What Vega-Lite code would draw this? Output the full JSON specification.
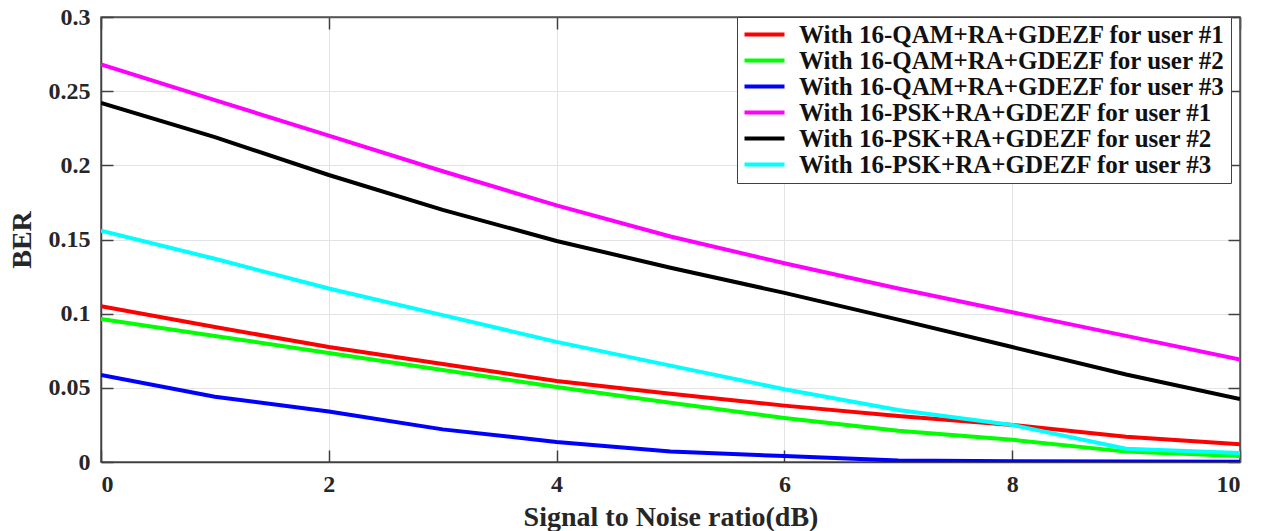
{
  "$schema": "https://vega.github.io/schema/vega-lite/v6.json",
  "width": 1139,
  "height": 445,
  "autosize": {"type": "none"},
  "padding": {"left": 101, "top": 17, "right": 23, "bottom": 69},
  "background": "white",
  "view": {"stroke": "#555555", "strokeWidth": 1.5},
  "config": {
    "font": "Liberation Serif",
    "axis": {
      "labelFont": "Liberation Serif", "labelFontWeight": "bold", "labelFontSize": 24, "labelColor": "#262626",
      "titleFont": "Liberation Serif", "titleFontWeight": "bold", "titleFontSize": 28, "titleColor": "#262626",
      "domainColor": "#404040", "domainWidth": 1.5,
      "tickColor": "#404040", "tickSize": -12, "tickWidth": 1.5,
      "gridColor": "#e3e3e3", "gridWidth": 1
    },
    "legend": {
      "labelFont": "Liberation Serif", "labelFontWeight": "bold", "labelFontSize": 25, "labelColor": "#111111"
    }
  },
  "data": {
    "values": [
      {"snr": 0, "ber": 0.105, "series": "With 16-QAM+RA+GDEZF for user #1"},
      {"snr": 1, "ber": 0.091, "series": "With 16-QAM+RA+GDEZF for user #1"},
      {"snr": 2, "ber": 0.0775, "series": "With 16-QAM+RA+GDEZF for user #1"},
      {"snr": 3, "ber": 0.066, "series": "With 16-QAM+RA+GDEZF for user #1"},
      {"snr": 4, "ber": 0.0546, "series": "With 16-QAM+RA+GDEZF for user #1"},
      {"snr": 5, "ber": 0.046, "series": "With 16-QAM+RA+GDEZF for user #1"},
      {"snr": 6, "ber": 0.038, "series": "With 16-QAM+RA+GDEZF for user #1"},
      {"snr": 7, "ber": 0.031, "series": "With 16-QAM+RA+GDEZF for user #1"},
      {"snr": 8, "ber": 0.025, "series": "With 16-QAM+RA+GDEZF for user #1"},
      {"snr": 9, "ber": 0.017, "series": "With 16-QAM+RA+GDEZF for user #1"},
      {"snr": 10, "ber": 0.012, "series": "With 16-QAM+RA+GDEZF for user #1"},

      {"snr": 0, "ber": 0.0965, "series": "With 16-QAM+RA+GDEZF for user #2"},
      {"snr": 1, "ber": 0.085, "series": "With 16-QAM+RA+GDEZF for user #2"},
      {"snr": 2, "ber": 0.0735, "series": "With 16-QAM+RA+GDEZF for user #2"},
      {"snr": 3, "ber": 0.062, "series": "With 16-QAM+RA+GDEZF for user #2"},
      {"snr": 4, "ber": 0.0506, "series": "With 16-QAM+RA+GDEZF for user #2"},
      {"snr": 5, "ber": 0.040, "series": "With 16-QAM+RA+GDEZF for user #2"},
      {"snr": 6, "ber": 0.0297, "series": "With 16-QAM+RA+GDEZF for user #2"},
      {"snr": 7, "ber": 0.021, "series": "With 16-QAM+RA+GDEZF for user #2"},
      {"snr": 8, "ber": 0.015, "series": "With 16-QAM+RA+GDEZF for user #2"},
      {"snr": 9, "ber": 0.007, "series": "With 16-QAM+RA+GDEZF for user #2"},
      {"snr": 10, "ber": 0.004, "series": "With 16-QAM+RA+GDEZF for user #2"},

      {"snr": 0, "ber": 0.0587, "series": "With 16-QAM+RA+GDEZF for user #3"},
      {"snr": 1, "ber": 0.044, "series": "With 16-QAM+RA+GDEZF for user #3"},
      {"snr": 2, "ber": 0.034, "series": "With 16-QAM+RA+GDEZF for user #3"},
      {"snr": 3, "ber": 0.022, "series": "With 16-QAM+RA+GDEZF for user #3"},
      {"snr": 4, "ber": 0.0135, "series": "With 16-QAM+RA+GDEZF for user #3"},
      {"snr": 5, "ber": 0.007, "series": "With 16-QAM+RA+GDEZF for user #3"},
      {"snr": 6, "ber": 0.004, "series": "With 16-QAM+RA+GDEZF for user #3"},
      {"snr": 7, "ber": 0.001, "series": "With 16-QAM+RA+GDEZF for user #3"},
      {"snr": 8, "ber": 0.0005, "series": "With 16-QAM+RA+GDEZF for user #3"},
      {"snr": 9, "ber": 0.0003, "series": "With 16-QAM+RA+GDEZF for user #3"},
      {"snr": 10, "ber": 0.0002, "series": "With 16-QAM+RA+GDEZF for user #3"},

      {"snr": 0, "ber": 0.268, "series": "With 16-PSK+RA+GDEZF for user #1"},
      {"snr": 1, "ber": 0.244, "series": "With 16-PSK+RA+GDEZF for user #1"},
      {"snr": 2, "ber": 0.220, "series": "With 16-PSK+RA+GDEZF for user #1"},
      {"snr": 3, "ber": 0.196, "series": "With 16-PSK+RA+GDEZF for user #1"},
      {"snr": 4, "ber": 0.173, "series": "With 16-PSK+RA+GDEZF for user #1"},
      {"snr": 5, "ber": 0.152, "series": "With 16-PSK+RA+GDEZF for user #1"},
      {"snr": 6, "ber": 0.134, "series": "With 16-PSK+RA+GDEZF for user #1"},
      {"snr": 7, "ber": 0.117, "series": "With 16-PSK+RA+GDEZF for user #1"},
      {"snr": 8, "ber": 0.101, "series": "With 16-PSK+RA+GDEZF for user #1"},
      {"snr": 9, "ber": 0.085, "series": "With 16-PSK+RA+GDEZF for user #1"},
      {"snr": 10, "ber": 0.069, "series": "With 16-PSK+RA+GDEZF for user #1"},

      {"snr": 0, "ber": 0.242, "series": "With 16-PSK+RA+GDEZF for user #2"},
      {"snr": 1, "ber": 0.219, "series": "With 16-PSK+RA+GDEZF for user #2"},
      {"snr": 2, "ber": 0.1935, "series": "With 16-PSK+RA+GDEZF for user #2"},
      {"snr": 3, "ber": 0.170, "series": "With 16-PSK+RA+GDEZF for user #2"},
      {"snr": 4, "ber": 0.149, "series": "With 16-PSK+RA+GDEZF for user #2"},
      {"snr": 5, "ber": 0.131, "series": "With 16-PSK+RA+GDEZF for user #2"},
      {"snr": 6, "ber": 0.114, "series": "With 16-PSK+RA+GDEZF for user #2"},
      {"snr": 7, "ber": 0.096, "series": "With 16-PSK+RA+GDEZF for user #2"},
      {"snr": 8, "ber": 0.0775, "series": "With 16-PSK+RA+GDEZF for user #2"},
      {"snr": 9, "ber": 0.059, "series": "With 16-PSK+RA+GDEZF for user #2"},
      {"snr": 10, "ber": 0.0425, "series": "With 16-PSK+RA+GDEZF for user #2"},

      {"snr": 0, "ber": 0.156, "series": "With 16-PSK+RA+GDEZF for user #3"},
      {"snr": 1, "ber": 0.137, "series": "With 16-PSK+RA+GDEZF for user #3"},
      {"snr": 2, "ber": 0.117, "series": "With 16-PSK+RA+GDEZF for user #3"},
      {"snr": 3, "ber": 0.099, "series": "With 16-PSK+RA+GDEZF for user #3"},
      {"snr": 4, "ber": 0.081, "series": "With 16-PSK+RA+GDEZF for user #3"},
      {"snr": 5, "ber": 0.065, "series": "With 16-PSK+RA+GDEZF for user #3"},
      {"snr": 6, "ber": 0.049, "series": "With 16-PSK+RA+GDEZF for user #3"},
      {"snr": 7, "ber": 0.035, "series": "With 16-PSK+RA+GDEZF for user #3"},
      {"snr": 8, "ber": 0.025, "series": "With 16-PSK+RA+GDEZF for user #3"},
      {"snr": 9, "ber": 0.009, "series": "With 16-PSK+RA+GDEZF for user #3"},
      {"snr": 10, "ber": 0.006, "series": "With 16-PSK+RA+GDEZF for user #3"}
    ]
  },
  "layer": [
    {
      "mark": {"type": "line", "strokeWidth": 4, "clip": true},
      "encoding": {
        "x": {
          "field": "snr", "type": "quantitative",
          "scale": {"domain": [0, 10], "nice": false},
          "axis": {"values": [0, 2, 4, 6, 8, 10], "title": "Signal to Noise ratio(dB)", "titlePadding": 7, "labelPadding": 22, "grid": true}
        },
        "y": {
          "field": "ber", "type": "quantitative",
          "scale": {"domain": [0, 0.3], "nice": false},
          "axis": {"values": [0, 0.05, 0.1, 0.15, 0.2, 0.25, 0.3], "format": ".2~f", "title": "BER", "titlePadding": 12, "labelPadding": 23, "grid": true}
        },
        "color": {
          "field": "series", "type": "nominal",
          "scale": {
            "domain": [
              "With 16-QAM+RA+GDEZF for user #1",
              "With 16-QAM+RA+GDEZF for user #2",
              "With 16-QAM+RA+GDEZF for user #3",
              "With 16-PSK+RA+GDEZF for user #1",
              "With 16-PSK+RA+GDEZF for user #2",
              "With 16-PSK+RA+GDEZF for user #3"
            ],
            "range": ["#ff0000", "#00ff00", "#0000ff", "#ff00ff", "#000000", "#00ffff"]
          },
          "legend": {
            "title": null,
            "orient": "none",
            "legendX": 636,
            "legendY": 0,
            "symbolType": "M-1,0L3,0",
            "symbolSize": 400,
            "symbolStrokeWidth": 4,
            "labelOffset": 32,
            "rowPadding": 0,
            "padding": 5,
            "strokeColor": "#404040",
            "fillColor": "white",
            "labelLimit": 600
          }
        }
      }
    },
    {
      "mark": {"type": "line", "strokeOpacity": 0, "clip": true},
      "encoding": {
        "x": {
          "field": "snr", "type": "quantitative",
          "axis": {"orient": "top", "values": [0, 2, 4, 6, 8, 10], "labels": false, "title": null, "grid": false, "domainColor": "#555555"}
        },
        "y": {
          "field": "ber", "type": "quantitative",
          "axis": {"orient": "right", "values": [0, 0.05, 0.1, 0.15, 0.2, 0.25, 0.3], "labels": false, "title": null, "grid": false, "domainColor": "#555555"}
        },
        "detail": {"field": "series"}
      }
    }
  ],
  "resolve": {"axis": {"x": "independent", "y": "independent"}}
}
